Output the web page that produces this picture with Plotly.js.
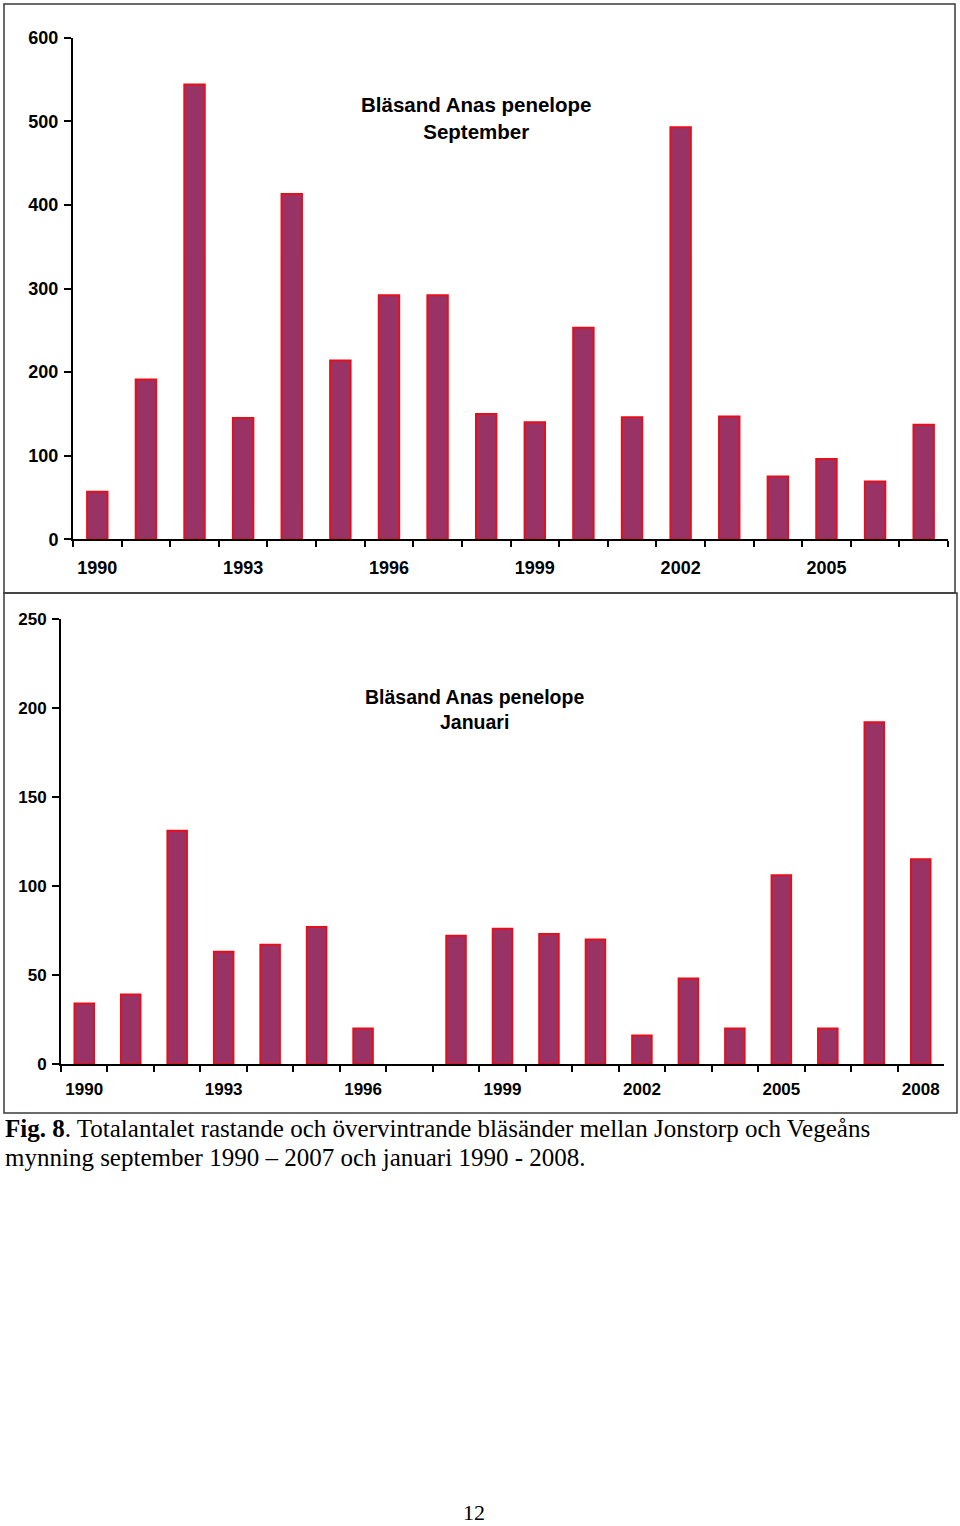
<!DOCTYPE html>
<html>
<head>
<meta charset="utf-8">
<script src="https://cdn.plot.ly/plotly-3.0.1.min.js"></script>
<style>
  html, body { margin: 0; padding: 0; background: #ffffff; }
  #chart { width: 960px; height: 1526px; }
</style>
</head>
<body>
<div id="chart"></div>
<script>
// ---- Data ----
const septYears = ['1990','1991','1992','1993','1994','1995','1996','1997','1998','1999','2000','2001','2002','2003','2004','2005','2006','2007'];
const septValues = [57, 191, 544, 145, 413, 214, 292, 292, 150, 140, 253, 146, 493, 147, 75, 96, 69, 137];
const septTickLabels = ['1990','','','1993','','','1996','','','1999','','','2002','','','2005','',''];

const janYears = ['1990','1991','1992','1993','1994','1995','1996','1997','1998','1999','2000','2001','2002','2003','2004','2005','2006','2007','2008'];
// 1997: no bar drawn in the reference
const janValues = [34, 39, 131, 63, 67, 77, 20, null, 72, 76, 73, 70, 16, 48, 20, 106, 20, 192, 115];
const janTickLabels = ['1990','','','1993','','','1996','','','1999','','','2002','','','2005','','','2008'];

const titleSept = 'Bläsand Anas penelope<br>September';
const titleJan = 'Bläsand Anas penelope<br>Januari';
const captionLine1 = '<b>Fig. 8</b>. Totalantalet rastande och övervintrande bläsänder mellan Jonstorp och Vegeåns';
const captionLine2 = 'mynning september 1990 – 2007 och januari 1990 - 2008.';
const pageNumber = '12';

// ---- Layout helpers (pixel -> paper) ----
const W = 960, H = 1526;
const px = x => x / W;
const py = y => 1 - y / H;

const sans = 'Liberation Sans, Arial, Helvetica, sans-serif';
const serif = 'Liberation Serif, Times New Roman, serif';
const barFill = '#993366';
const barLine = '#e3101c';

const traces = [
  {
    type: 'bar', x: septYears, y: septValues, xaxis: 'x', yaxis: 'y',
    marker: { color: barFill, line: { color: barLine, width: 2 } },
    hoverinfo: 'x+y', showlegend: false
  },
  {
    type: 'bar', x: janYears, y: janValues, xaxis: 'x2', yaxis: 'y2',
    marker: { color: barFill, line: { color: barLine, width: 2 } },
    hoverinfo: 'x+y', showlegend: false
  }
];

function xAxis(domain, cats, labels, anchor, size, standoff) {
  return {
    domain: domain, anchor: anchor, type: 'category',
    categoryorder: 'array', categoryarray: cats,
    range: [-0.5, cats.length - 0.5],
    tickmode: 'array', tickvals: cats, ticktext: labels, tickangle: 0,
    tickson: 'boundaries', ticks: 'outside', ticklen: 6, tickwidth: 2, tickcolor: '#000',
    showline: true, linecolor: '#000', linewidth: 2,
    showgrid: false, zeroline: false, fixedrange: true,
    ticklabelstandoff: standoff,
    tickfont: { family: sans, size: size, color: '#000', weight: 'bold' }
  };
}
function yAxis(domain, max, dtick, anchor, size) {
  return {
    domain: domain, anchor: anchor, range: [0, max],
    tickmode: 'linear', tick0: 0, dtick: dtick,
    ticks: 'outside', ticklen: 7, tickwidth: 2, tickcolor: '#000',
    showline: true, linecolor: '#000', linewidth: 2,
    showgrid: false, zeroline: false, fixedrange: true,
    ticklabelstandoff: 2,
    tickfont: { family: sans, size: size, color: '#000', weight: 'bold' }
  };
}

const layout = {
  width: W, height: H,
  margin: { l: 0, r: 0, t: 0, b: 0, pad: 0 },
  paper_bgcolor: '#ffffff', plot_bgcolor: 'rgba(0,0,0,0)',
  showlegend: false, bargap: 0.58,
  xaxis: xAxis([px(73), px(948)], septYears, septTickLabels, 'y', 18, 11),
  yaxis: yAxis([py(539.3), py(37.7)], 600, 100, 'x', 18),
  xaxis2: xAxis([px(61), px(944)], janYears, janTickLabels, 'y2', 17, 9),
  yaxis2: yAxis([py(1064), py(619)], 250, 50, 'x2', 17),
  shapes: [
    { type: 'rect', xref: 'paper', yref: 'paper', x0: px(4), x1: px(955), y0: py(593), y1: py(4),
      line: { color: '#3a3a3a', width: 1.5 }, fillcolor: 'rgba(0,0,0,0)', layer: 'below' },
    { type: 'rect', xref: 'paper', yref: 'paper', x0: px(4), x1: px(957), y0: py(1113), y1: py(593),
      line: { color: '#3a3a3a', width: 1.5 }, fillcolor: 'rgba(0,0,0,0)', layer: 'below' }
  ],
  annotations: [
    { text: titleSept, xref: 'paper', yref: 'paper', x: px(476), y: py(118),
      xanchor: 'center', yanchor: 'middle', align: 'center', showarrow: false,
      font: { family: sans, size: 20.5, color: '#000', weight: 'bold' } },
    { text: titleJan, xref: 'paper', yref: 'paper', x: px(474), y: py(709),
      xanchor: 'center', yanchor: 'middle', align: 'center', showarrow: false,
      font: { family: sans, size: 19.5, color: '#000', weight: 'bold' } },
    { text: captionLine1, xref: 'paper', yref: 'paper', x: px(3), y: py(1128),
      xanchor: 'left', yanchor: 'middle', align: 'left', showarrow: false,
      font: { family: serif, size: 25, color: '#000' } },
    { text: captionLine2, xref: 'paper', yref: 'paper', x: px(3), y: py(1157),
      xanchor: 'left', yanchor: 'middle', align: 'left', showarrow: false,
      font: { family: serif, size: 25, color: '#000' } },
    { text: pageNumber, xref: 'paper', yref: 'paper', x: px(474), y: py(1512),
      xanchor: 'center', yanchor: 'middle', showarrow: false, borderpad: 0,
      font: { family: serif, size: 22, color: '#000' } }
  ]
};

Plotly.newPlot('chart', traces, layout, { staticPlot: true, displayModeBar: false });
</script>
</body>
</html>
